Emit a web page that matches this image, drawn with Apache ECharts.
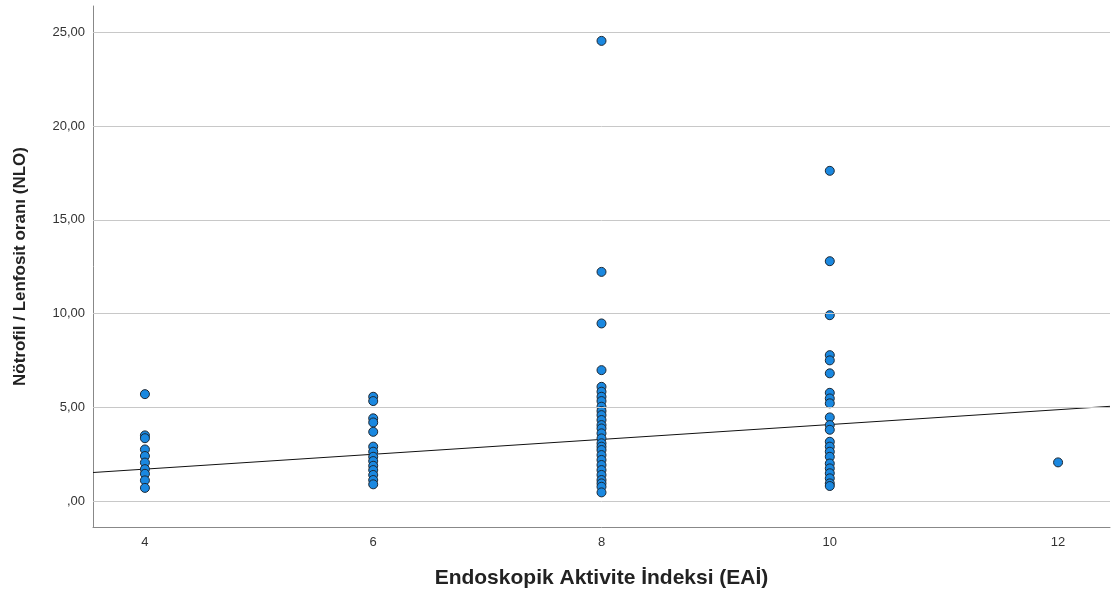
<!DOCTYPE html>
<html>
<head>
<meta charset="utf-8">
<script src="https://cdn.jsdelivr.net/npm/echarts@6/dist/echarts.min.js"></script>
<style>
html,body{margin:0;padding:0;background:#fff;}
#chart{width:1113px;height:593px;}
</style>
</head>
<body>
<div id="chart"></div>
<script>
// EAİ groups
const eai4 = [5.7, 3.5, 3.35, 2.75, 2.4, 2.05, 1.7, 1.45, 1.1, 0.7];
const eai6 = [5.56, 5.33, 4.41, 4.19, 3.69, 2.9, 2.63, 2.36, 2.13, 1.88, 1.65, 1.39, 1.12, 0.89];
const eai8 = [24.54, 12.22, 9.47, 6.98, 6.09, 5.83, 5.56, 5.33, 5.03, 4.8, 4.58, 4.32, 4.05, 3.87, 3.61, 3.34, 3.08, 2.9, 2.72, 2.45, 2.19, 1.92, 1.65, 1.39, 1.12, 0.94, 0.76, 0.46];
const eai10 = [17.61, 12.79, 9.91, 7.78, 7.5, 6.81, 5.77, 5.47, 5.21, 4.46, 4.05, 3.8, 3.16, 2.9, 2.63, 2.36, 2.0, 1.74, 1.48, 1.21, 0.94, 0.8];
const eai12 = [2.06];
const groupX = [4, 6, 8, 10, 12];
// Fit line endpoints
const fitLine = [[3.545, 1.52], [12.455, 5.05]];
const xTicks = [4, 6, 8, 10, 12];
const yTicks = [0, 5, 10, 15, 20, 25];
const yTickLabels = [',00', '5,00', '10,00', '15,00', '20,00', '25,00'];

const groups = [eai4, eai6, eai8, eai10, eai12];
const points = [];
groups.forEach((g, i) => g.forEach(v => points.push([groupX[i], v])));

const chart = echarts.init(document.getElementById('chart'), null, {renderer: 'canvas'});
const font = 'Liberation Sans, Arial, sans-serif';
chart.setOption({
  animation: false,
  grid: {left: 93, right: 3, top: 6, bottom: 66, containLabel: false, outerBoundsMode: 'none'},
  xAxis: {
    type: 'value', min: 3.545, max: 12.455,
    name: 'Endoskopik Aktivite İndeksi (EAİ)',
    nameLocation: 'middle', nameGap: 41,
    nameTextStyle: {fontFamily: font, fontSize: 21, fontWeight: 'bold', color: '#222'},
    axisLine: {show: true, onZero: false, lineStyle: {color: '#888', width: 1}},
    axisTick: {show: false},
    splitLine: {show: false},
    axisLabel: {customValues: xTicks, fontFamily: font, fontSize: 13, color: '#333', margin: 9}
  },
  yAxis: {
    type: 'value', min: -1.386, max: 26.4,
    name: 'Nötrofil / Lenfosit oranı (NLO)',
    nameLocation: 'middle', nameGap: 64, nameRotate: 90,
    nameTextStyle: {fontFamily: font, fontSize: 17, fontWeight: 'bold', color: '#222'},
    axisLine: {show: true, onZero: false, lineStyle: {color: '#888', width: 1}},
    axisTick: {show: false},
    splitLine: {show: false},
    axisLabel: {
      customValues: yTicks, fontFamily: font, fontSize: 13, color: '#333', margin: 8,
      formatter: v => yTickLabels[yTicks.indexOf(Math.round(v))] || ''
    }
  },
  series: [
    {
      type: 'line', data: [], silent: true,
      markLine: {
        silent: true, symbol: 'none', label: {show: false},
        lineStyle: {color: '#c8c8c8', width: 1, type: 'solid'},
        data: yTicks.map(v => ({yAxis: v}))
      }
    },
    {
      type: 'line', data: fitLine, symbol: 'none', silent: true,
      lineStyle: {color: '#111', width: 1}, z: 3
    },
    {
      type: 'scatter', data: points, symbolSize: 9, z: 4,
      itemStyle: {color: '#1a88e0', borderColor: '#1c2733', borderWidth: 1, opacity: 1}
    }
  ]
});
</script>
</body>
</html>
